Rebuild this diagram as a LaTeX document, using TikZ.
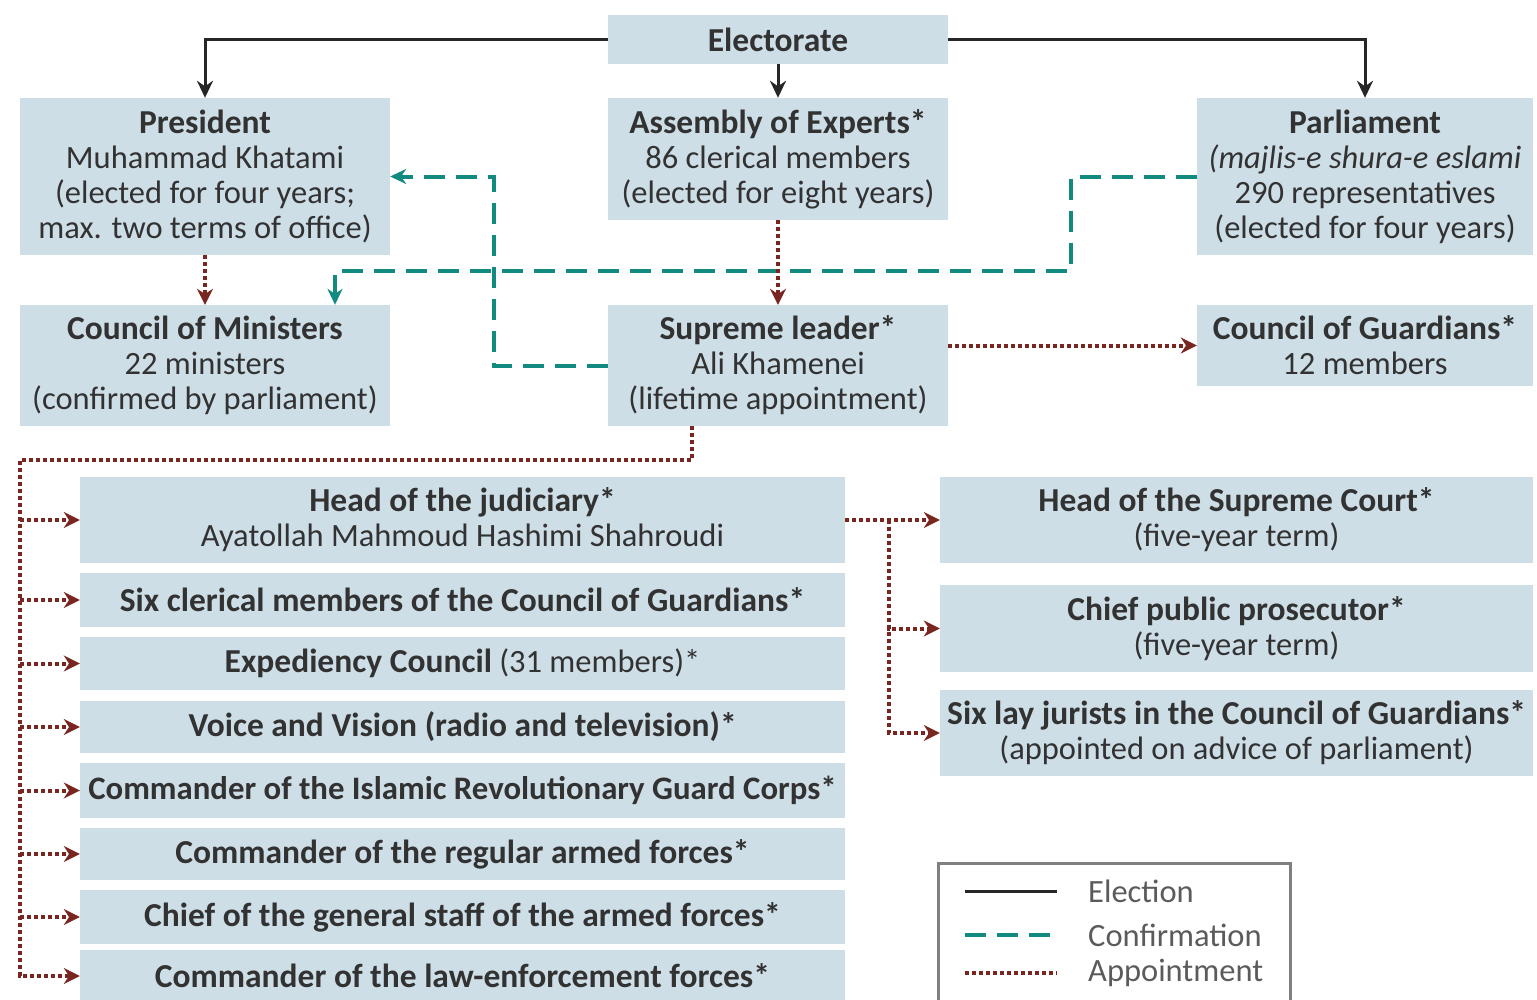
\documentclass[tikz,border=0pt]{standalone}
\usepackage{fontspec}
\setmainfont{Carlito}
\usetikzlibrary{arrows.meta, positioning, calc}
\definecolor{cBox}{RGB}{206,222,231}
\definecolor{cTeal}{RGB}{18,138,128}
\definecolor{cMaroon}{RGB}{122,38,32}
\definecolor{cText}{RGB}{50,50,50}
\definecolor{cFrame}{RGB}{128,128,128}
\newcommand{\ttl}[1]{{\fontsize{33.5}{35}\selectfont\bfseries #1}}
\tikzset{
	box/.style      ={rectangle, fill=cBox, text=cText, align=center, inner sep=0pt, font=\fontsize{32.5}{35}\selectfont},
	sz/.style 2 args={minimum width=#1pt, minimum height=#2pt},
	% connector styles
	elect/.style    ={-{Stealth[length=17pt, width=16pt]}, line width=3pt, black!85},
	confirm/.style  ={-{Stealth[length=16pt, width=15pt]}, line width=4pt, cTeal, dash pattern=on 21pt off 11pt},
	appoint/.style  ={-{Stealth[length=16pt, width=16pt]}, line width=4pt, cMaroon, dash pattern=on 4pt off 3pt},
	legtext/.style  ={anchor=west, text=cText!80, inner sep=0pt, font=\fontsize{32.5}{35}\selectfont},
}
\begin{document}
\begin{tikzpicture}[x=1pt, y=-1pt]
	\useasboundingbox (0,0) rectangle (1537,999);
	% top row
	\node[box, sz={340}{49}] (elec) at (778,39.5) {\ttl{Electorate}};
	\node[box, sz={370}{157}] (pres) at (205,176.5) {\ttl{President}\\Muhammad Khatami\\(elected for four years;\\max. two terms of office)};
	\node[box, sz={340}{122}] (assem) at (778,159) {\ttl{Assembly of Experts*}\\86 clerical members\\(elected for eight years)};
	\node[box, sz={336}{157}] (parl) at (1365,176.5) {\ttl{Parliament}\\\textit{(majlis-e shura-e eslami}\\290 representatives\\(elected for four years)};
	% second row
	\node[box, sz={370}{121}] (minis) at (205,365.5) {\ttl{Council of Ministers}\\22 ministers\\(confirmed by parliament)};
	\node[box, sz={340}{121}] (leader) at (778,365.5) {\ttl{Supreme leader*}\\Ali Khamenei\\(lifetime appointment)};
	\node[box, sz={336}{81}] (guard) at (1365,345.5) {\ttl{Council of Guardians*}\\12 members};
	% appointed by the leader
	\node[box, sz={765}{86}] (judi) at (462.5,520) {\ttl{Head of the judiciary*}\\Ayatollah Mahmoud Hashimi Shahroudi};
	\node[box, sz={765}{54}] (cleric) at (462.5,600) {\ttl{Six clerical members of the Council of Guardians*}};
	\node[box, sz={765}{53}] (exped) at (462.5,663.5) {\ttl{Expediency Council} (31 members)*};
	\node[box, sz={765}{52}] (voice) at (462.5,727) {\ttl{Voice and Vision (radio and television)*}};
	\node[box, sz={765}{55}] (irgc) at (462.5,790.5) {{\fontsize{32.8}{35}\selectfont\bfseries Commander of the Islamic Revolutionary Guard Corps*}};
	\node[box, sz={765}{52}] (army) at (462.5,854) {\ttl{Commander of the regular armed forces*}};
	\node[box, sz={765}{54}] (staff) at (462.5,917) {\ttl{Chief of the general staff of the armed forces*}};
	\node[box, sz={765}{52}] (law) at (462.5,976) {\ttl{Commander of the law-enforcement forces*}};
	% appointed by the judiciary
	\node[box, sz={593}{86}] (court) at (1236.5,520) {\ttl{Head of the Supreme Court*}\\(five-year term)};
	\node[box, sz={593}{87}] (prosec) at (1236.5,628.5) {\ttl{Chief public prosecutor*}\\(five-year term)};
	\node[box, sz={593}{86}] (jurist) at (1236.5,733) {\ttl{Six lay jurists in the Council of Guardians*}\\(appointed on advice of parliament)};
	% election
	\draw[elect] (elec.west) -| (pres.north);
	\draw[elect] (elec.south) -- (assem.north);
	\draw[elect] (elec.east) -| (parl.north);
	% confirmation
	\draw[confirm] (leader.west) -- ++(-114,0) |- (pres.east);
	\coordinate (cbus) at (335,271);
	\draw[confirm] (parl.west) -- ++(-126,0) |- (cbus) -- (cbus |- minis.north);
	% appointment
	\draw[appoint] (pres.south) -- (minis.north);
	\draw[appoint] (assem.south) -- (leader.north);
	\draw[appoint] (leader.east |- guard.west) -- (guard.west);
	\coordinate (trunk) at (20,460);
	\draw[appoint] ([xshift=-86pt]leader.south) |- (trunk) |- (law.west);
	\foreach \n in {judi,cleric,exped,voice,irgc,army,staff}
		\draw[appoint] (trunk |- \n.west) -- (\n.west);
	\coordinate (branch) at ($(judi.east)!0.46!(court.west)$);
	\draw[appoint] (judi.east) -- (court.west);
	\draw[appoint] (branch) |- (prosec.west);
	\draw[appoint] (branch) |- (jurist.west);
	% legend
	\node[draw=cFrame, line width=3pt, sz={352}{140}] (legend) at (1114,933) {};
	\node[legtext] (lel) at (1088,891) {Election};
	\node[legtext] (lconf) at (1088,935) {Confirmation};
	\node[legtext] (lapp) at (1088,973) {Appointment};
	\draw[elect, -] ([xshift=-123pt]lel.west) -- ++(92,0);
	\draw[confirm, -] ([xshift=-123pt]lconf.west) -- ++(92,0);
	\draw[appoint, -] ([xshift=-123pt]lapp.west) -- ++(92,0);
\end{tikzpicture}
\end{document}
